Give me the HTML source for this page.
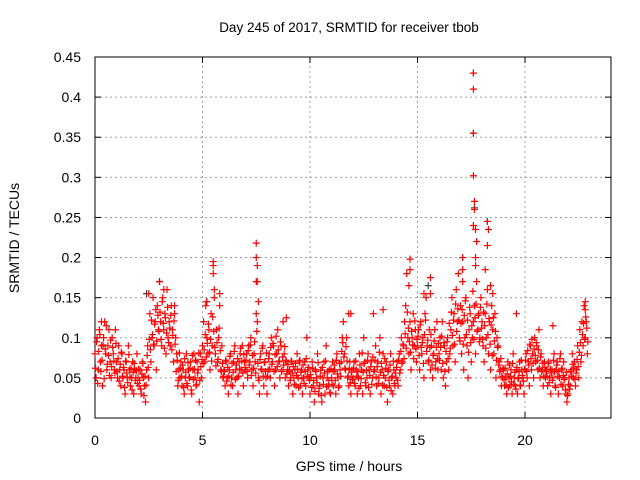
<!DOCTYPE html>
<html><head><meta charset="utf-8"><style>
body{margin:0;background:#fff;}
svg{display:block;font-family:"Liberation Sans",sans-serif;}
</style></head><body>
<svg id="chart" width="640" height="480" xmlns="http://www.w3.org/2000/svg">
<rect width="640" height="480" fill="#fff"/>
<text x="349" y="32" font-size="13.5" text-anchor="middle" fill="#000">Day 245 of 2017, SRMTID for receiver tbob</text>
<g id="grid"></g>
<g id="axes"></g>
<g id="marks"></g>
<text x="349" y="471" font-size="14" text-anchor="middle" fill="#000">GPS time / hours</text>
<text transform="translate(19,238) rotate(-90)" font-size="14" text-anchor="middle" fill="#000">SRMTID / TECUs</text>
</svg>
<script>
const xTicks=[0,5,10,15,20];
const yTicks=[0,0.05,0.1,0.15,0.2,0.25,0.3,0.35,0.4,0.45];
const yTickLabels=["0","0.05","0.1","0.15","0.2","0.25","0.3","0.35","0.4","0.45"];
const sampleStep=0.05;
const baseValues=[
.08,.05,.1,.06,.11,.07,.09,.04,.1,.12,.08,.06,.09,.11,.07,.05,.1,.08,.06,.11,
.07,.05,.09,.06,.04,.08,.05,.06,.03,.07,.05,.09,.06,.04,.05,.07,.03,.06,.05,.08,
.05,.04,.06,.03,.07,.05,.04,.02,.06,.09,.05,.13,.07,.1,.15,.09,.12,.06,.14,.11,
.17,.12,.09,.15,.11,.13,.08,.16,.1,.12,.09,.14,.11,.07,.13,.1,.08,.04,.06,.05,
.07,.04,.06,.03,.05,.08,.04,.06,.05,.07,.03,.06,.08,.05,.04,.07,.06,.02,.08,.05,
.09,.12,.07,.14,.1,.08,.11,.06,.13,.09,.19,.15,.08,.11,.07,.1,.14,.06,.09,.05,
.06,.04,.07,.05,.03,.06,.08,.05,.04,.07,.09,.06,.05,.03,.07,.08,.06,.09,.04,.07,
.06,.08,.05,.09,.07,.1,.06,.04,.08,.07,.17,.12,.05,.03,.08,.06,.09,.04,.07,.05,
.03,.06,.08,.05,.1,.07,.09,.04,.06,.08,.11,.07,.05,.09,.06,.12,.08,.05,.07,.06,
.04,.06,.05,.07,.03,.05,.06,.04,.08,.05,.07,.04,.06,.03,.05,.07,.04,.1,.06,.05,
.03,.05,.07,.04,.02,.06,.05,.08,.03,.04,.06,.02,.05,.07,.03,.09,.05,.04,.06,.03,
.05,.07,.04,.06,.03,.08,.05,.04,.06,.07,.1,.12,.08,.06,.1,.05,.04,.07,.03,.06,
.05,.07,.04,.06,.03,.05,.08,.04,.06,.03,.1,.07,.04,.05,.08,.06,.03,.07,.05,.13,
.06,.09,.04,.07,.05,.1,.03,.06,.08,.04,.05,.07,.02,.06,.04,.08,.05,.03,.06,.04,
.05,.07,.04,.08,.06,.1,.07,.09,.12,.14,.18,.1,.08,.12,.06,.1,.13,.09,.11,.07,
.09,.11,.06,.12,.08,.1,.05,.13,.15,.09,.07,.11,.06,.09,.05,.08,.11,.07,.12,.06,
.08,.1,.06,.12,.05,.09,.04,.07,.1,.06,.08,.11,.15,.09,.13,.07,.16,.12,.18,.1,
.14,.08,.12,.06,.1,.15,.09,.05,.11,.13,.07,.1,.12,.14,.08,.17,.11,.13,.1,.15,
.12,.09,.07,.13,.1,.16,.08,.12,.06,.14,.11,.08,.13,.05,.1,.09,.07,.06,.04,.05,
.06,.04,.05,.03,.07,.05,.04,.06,.03,.08,.05,.04,.06,.03,.05,.07,.04,.06,.05,.03,
.06,.08,.05,.07,.04,.09,.06,.08,.05,.1,.07,.09,.06,.11,.05,.08,.06,.04,.07,.05,
.06,.04,.07,.05,.03,.06,.05,.08,.04,.06,.07,.03,.05,.08,.06,.04,.07,.05,.03,.02,
.03,.05,.04,.06,.08,.05,.07,.04,.06,.09,.05,.11,.07,.12,.09,.14,.1,.12,.08];
const offsetValues=[
.062,.095,.043,.083,.104,.058,.072,.091,.049,.086,.115,.067,.078,.053,.097,.064,.088,.071,.056,.093,
.058,.074,.046,.067,.082,.052,.063,.038,.071,.056,.044,.079,.051,.062,.035,.057,.068,.047,.059,.043,
.061,.047,.036,.055,.068,.028,.052,.041,.078,.063,.098,.085,.122,.104,.092,.117,.135,.096,.128,.108,
.132,.098,.145,.118,.087,.125,.106,.138,.094,.112,.128,.085,.103,.121,.092,.058,.072,.047,.081,.062,
.052,.066,.038,.074,.057,.043,.069,.051,.062,.035,.078,.048,.061,.072,.042,.056,.081,.047,.064,.073,
.068,.085,.104,.076,.093,.117,.082,.098,.071,.126,.108,.088,.065,.094,.073,.112,.084,.058,.068,.052,
.058,.072,.046,.063,.052,.077,.041,.068,.057,.083,.048,.066,.074,.052,.061,.087,.071,.056,.079,.063,
.072,.058,.084,.066,.091,.053,.078,.062,.095,.056,.108,.068,.047,.073,.061,.087,.052,.069,.058,.081,
.052,.074,.061,.088,.067,.093,.058,.079,.102,.064,.085,.071,.095,.058,.076,.066,.089,.072,.055,.067,
.058,.047,.071,.056,.064,.042,.068,.053,.061,.038,.072,.057,.049,.066,.043,.058,.074,.052,.063,.047,
.054,.038,.062,.047,.033,.058,.044,.069,.037,.052,.028,.063,.042,.056,.071,.039,.058,.047,.032,.061,
.042,.058,.066,.047,.072,.055,.038,.068,.052,.083,.094,.076,.062,.089,.071,.052,.061,.044,.057,.048,
.062,.043,.071,.052,.058,.037,.066,.049,.081,.057,.068,.044,.059,.072,.038,.053,.064,.042,.076,.058,
.072,.051,.064,.043,.082,.057,.068,.041,.053,.074,.062,.038,.058,.047,.066,.034,.052,.071,.043,.056,
.063,.047,.072,.056,.083,.068,.092,.074,.105,.087,.132,.112,.095,.082,.108,.091,.074,.121,.086,.098,
.102,.078,.116,.088,.094,.068,.104,.122,.083,.097,.072,.088,.104,.066,.078,.096,.062,.088,.074,.093,
.072,.088,.102,.068,.094,.058,.083,.095,.074,.118,.087,.132,.103,.122,.092,.142,.108,.136,.122,.096,
.118,.135,.092,.128,.146,.104,.122,.082,.138,.094,.115,.158,.098,.125,.142,.108,.128,.095,.138,.112,
.098,.132,.115,.087,.142,.104,.124,.092,.116,.078,.125,.096,.108,.072,.088,.066,.058,.074,.052,.062,
.048,.062,.041,.055,.038,.066,.052,.045,.068,.042,.057,.036,.063,.049,.058,.041,.072,.053,.046,.061,
.072,.058,.084,.066,.092,.074,.098,.068,.086,.078,.094,.072,.085,.062,.076,.058,.068,.052,.063,.058,
.052,.068,.044,.061,.056,.047,.072,.058,.038,.066,.052,.058,.074,.042,.062,.053,.048,.035,.057,.028,
.042,.036,.058,.052,.067,.062,.048,.056,.073,.064,.082,.094,.078,.104,.118,.098,.126,.112,.095];
const spikeTimes=[0.3,2.5,3.0,3.2,3.7,5.2,5.5,5.5,5.55,5.8,7.5,7.5,7.55,7.55,7.6,7.5,8.9,11.8,11.9,13.4,14.65,14.65,14.6,15.3,15.6,15.6,17.1,17.1,17.1,17.6,17.6,17.6,17.6,17.65,17.65,17.6,17.7,17.75,17.7,17.7,18.25,18.3,18.25,18.15,18.5,18.4,19.6,21.3,22.8,22.8];
const spikeValues=[0.12,0.155,0.17,0.16,0.14,0.145,0.195,0.18,0.16,0.155,0.218,0.2,0.19,0.17,0.145,0.13,0.125,0.13,0.13,0.135,0.198,0.185,0.165,0.155,0.175,0.155,0.2,0.185,0.17,0.43,0.41,0.355,0.302,0.27,0.26,0.24,0.235,0.22,0.2,0.19,0.245,0.235,0.215,0.185,0.155,0.165,0.13,0.115,0.145,0.135];
const greyTimes=[17.6,17.6,17.65,18.25,5.2,15.5,2.4];
const greyValues=[0.43,0.355,0.262,0.245,0.145,0.165,0.155];

const X0=95,X1=611,Y0=418,Y1=57,XMAX=24,YMAX=0.45;
const xs=t=>X0+(X1-X0)*t/XMAX;
const ys=v=>Y0-(Y0-Y1)*v/YMAX;
const NS="http://www.w3.org/2000/svg";
function mk(tag,attrs,parent){const e=document.createElementNS(NS,tag);for(const k in attrs)e.setAttribute(k,attrs[k]);parent.appendChild(e);return e;}
const grid=document.getElementById('grid'),axes=document.getElementById('axes'),marks=document.getElementById('marks');
yTicks.forEach((v,i)=>{
  const y=ys(v);
  if(i>0&&i<yTicks.length-1){const g=mk('line',{x1:X0,x2:X1,y1:y,y2:y,stroke:'#a0a0a0','stroke-dasharray':'2,3'},grid);
  
  }
  mk('line',{x1:X0,x2:X0+6,y1:y,y2:y,stroke:'#000'},axes);
  mk('line',{x1:X1,x2:X1-6,y1:y,y2:y,stroke:'#000'},axes);
  const t=mk('text',{x:X0-14,y:y+5,'font-size':14,'text-anchor':'end'},axes);
  
  
  t.textContent=yTickLabels[i];
});
xTicks.forEach(v=>{
  const x=xs(v);
  if(v>0){const g=mk('line',{x1:x,x2:x,y1:Y0,y2:Y1,stroke:'#a0a0a0','stroke-dasharray':'2,3'},grid);
  
  }
  mk('line',{x1:x,x2:x,y1:Y0,y2:Y0-6,stroke:'#000'},axes);
  mk('line',{x1:x,x2:x,y1:Y1,y2:Y1+6,stroke:'#000'},axes);
  const t=mk('text',{x:x,y:Y0+27,'font-size':14,'text-anchor':'middle'},axes);
  
  
  t.textContent=String(v);
});
const fr=mk('rect',{x:X0,y:Y1,width:X1-X0,height:Y0-Y1,fill:'none',stroke:'#000'},axes);


function plus(t,v,color){
  const x=xs(t),y=ys(v);
  const p=mk('path',{d:`M${x-3.5},${y}h7M${x},${y-3.5}v7`,stroke:color,'stroke-width':1.2,fill:'none'},marks);
  
  
}
greyValues.forEach((v,i)=>plus(greyTimes[i],v,'#404040'));
baseValues.forEach((v,i)=>plus(i*sampleStep,v,'#ff0000'));
offsetValues.forEach((v,i)=>plus(i*sampleStep+0.025,v,'#ff0000'));
spikeValues.forEach((v,i)=>plus(spikeTimes[i],v,'#ff0000'));
</script>
</body></html>
